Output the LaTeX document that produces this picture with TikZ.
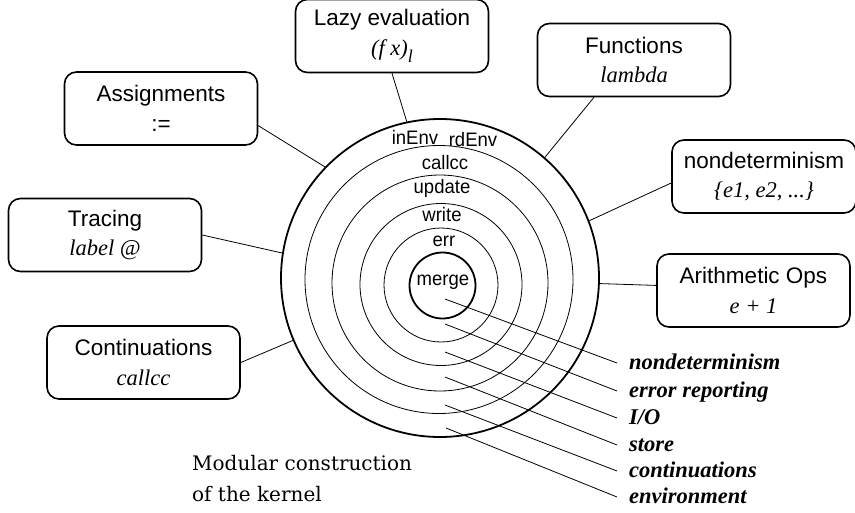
\documentclass[tikz,border=0pt]{standalone}
\usepackage{fontspec}
\usepackage{tikz}
\usetikzlibrary{positioning}

\newfontfamily\sansfam{Liberation Sans}
\newfontfamily\serifam{Liberation Serif}
\newfontfamily\capfam{DejaVu Serif}
\newcommand\featfont{\sansfam\fontsize{22.5}{29.5}\selectfont}
\newcommand\opfont{\sansfam\fontsize{19.5}{19.5}\selectfont}
\newcommand\layerfont{\serifam\bfseries\itshape\fontsize{22.5}{22.5}\selectfont}
\newcommand\capfont{\capfam\fontsize{20}{31}\selectfont}
\newcommand\subtxt[1]{{\serifam\itshape #1}}

\tikzset{
  feature/.style={draw, line width=1.6pt, rounded corners=12pt, minimum width=193pt,
    minimum height=73pt, align=center, font=\featfont, inner sep=2pt},
  ring/.style={line width=0.8pt},
  shell/.style={line width=1.8pt},
  op/.style={font=\opfont, anchor=base, inner sep=0pt},
  layer/.style={font=\layerfont, anchor=west, inner xsep=12pt, inner ysep=0pt,
    text height=16pt, text depth=4pt},
  link/.style={line width=0.8pt}
}

\begin{document}
\begin{tikzpicture}[x=1pt, y=-1pt]
\useasboundingbox (0,0) rectangle (855,512);

% the kernel and its layers
\node[circle, draw, shell, minimum size=318pt, inner sep=0pt] (kernel) at (440,278) {};
\draw[ring] (439,279.5) circle[radius=134];
\draw[ring] (440,283) circle[radius=108];
\draw[ring] (441,284.5) circle[radius=81];
\draw[ring] (441,285) circle[radius=57];
\draw[shell] (442.5,285.5) circle[radius=33];

\node[op] (inenv) at (415,144) {\scalebox{0.95}[1]{inEnv}};
\node[op] (rdenv) at (473,146) {\scalebox{0.95}[1]{rdEnv}};
\node[op] (callcc) at (445,169) {\scalebox{0.95}[1]{callcc}};
\node[op] (update) at (442,193) {\scalebox{0.95}[1]{update}};
\node[op] (write) at (442,221) {\scalebox{0.95}[1]{write}};
\node[op] (err) at (444,246) {\scalebox{0.95}[1]{err}};
\node[op] (merge) at (443,285) {\scalebox{0.95}[1]{merge}};

% features
\node[feature] (lazy) at (392,36) {Lazy evaluation\\\subtxt{(f x)\raisebox{-7pt}{\fontsize{18}{18}\selectfont l}}};
\node[feature] (func) at (634,60) {Functions\\\subtxt{lambda}};
\node[feature, minimum width=184pt] (nondet) at (764,176.5) {nondeterminism\\\subtxt{\{e1, e2, ...\}}};
\node[feature] (arith) at (753.5,290.5) {Arithmetic Ops\\\subtxt{e + 1}};
\node[feature] (assign) at (161,108.5) {Assignments\\:=};
\node[feature] (trace) at (105,235) {Tracing\\\subtxt{label @}};
\node[feature] (cont) at (143.5,362.5) {Continuations\\\subtxt{callcc}};

\draw[link] (lazy.south) -- (kernel.102);
\draw[link] (func.223) -- (kernel.49);
\draw[link] (nondet.184) -- (kernel.21.4);
\draw[link] (arith.177) -- (kernel.-2);
\draw[link] (assign.-10) -- (kernel.136);
\draw[link] (trace.east) -- (kernel.171.7);
\draw[link] (cont.east) -- (kernel.203.5);

% layer names
\coordinate (c1) at (445,299);
\coordinate (c2) at (445,324);
\coordinate (c3) at (445,352);
\coordinate (c4) at (445,377);
\coordinate (c5) at (445,405);
\coordinate (c6) at (446,428);
\node[layer] (l1) at (617,363) {nondeterminism};
\node[layer] (l2) at (617,391) {error reporting};
\node[layer] (l3) at (617,418) {I/O};
\node[layer] (l4) at (617,445) {store};
\node[layer] (l5) at (617,471) {continuations};
\node[layer] (l6) at (617,497) {environment};
\draw[link] (c1) -- (l1.west);
\draw[link] (c2) -- (l2.west);
\draw[link] (c3) -- (l3.west);
\draw[link] (c4) -- (l4.west);
\draw[link] (c5) -- (l5.west);
\draw[link] (c6) -- (l6.west);

\node[font=\capfont, align=left, anchor=north west, inner sep=0pt] (caption) at (192,455)
  {Modular construction\\of the kernel};
\end{tikzpicture}
\end{document}
